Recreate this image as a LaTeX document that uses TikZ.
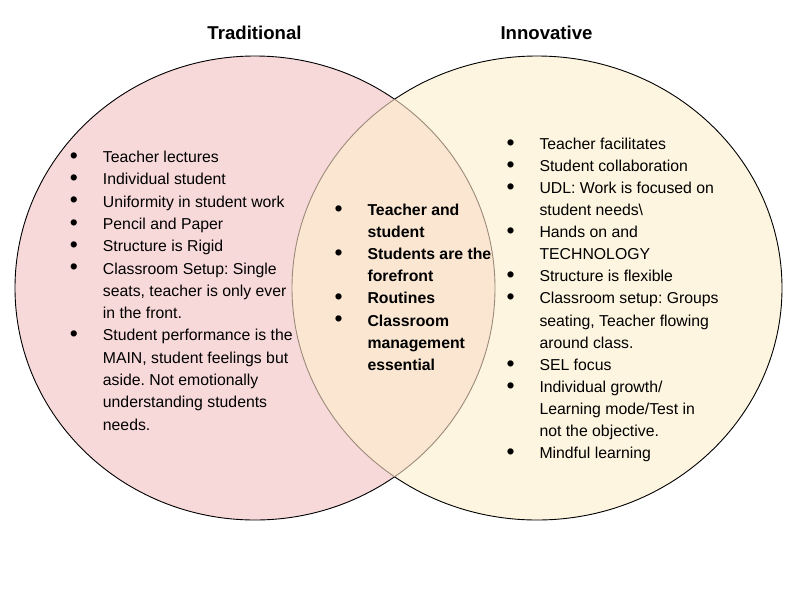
\documentclass[tikz,border=0pt]{standalone}
\usepackage{fontspec}
\setmainfont{Liberation Sans}
\frenchspacing
\newcommand{\vlist}[3]{%
  \fontsize{15.8}{#2}\selectfont
  \begin{tabular}[t]{@{}p{#1}@{}l@{}}#3\end{tabular}}
\newcommand{\bl}{\raisebox{-0.8pt}{\scalebox{1.45}{\textbullet}}}
\begin{document}
\begin{tikzpicture}[x=1pt,y=-1pt]
  \definecolor{tradfill}{HTML}{F8D9DA}
  \definecolor{innofill}{HTML}{FDF5DF}
  \definecolor{bothfill}{HTML}{FAE6D1}
  \definecolor{innerline}{HTML}{9C8A7A}
  \tikzset{
    ring/.style={line width=0.9pt},
    title/.style={font=\fontsize{18.6}{22}\selectfont\bfseries, inner sep=0pt, anchor=base},
    listnode/.style={inner sep=0pt, anchor=base west, align=left}
  }
  \def\lefte{(255,288) ellipse [x radius=240pt, y radius=232pt]}
  \def\righte{(537,288) ellipse [x radius=245pt, y radius=232pt]}
  \useasboundingbox (0,0) rectangle (800,600);
  \fill[white] (0,0) rectangle (800,600);

  % circle fills
  \fill[tradfill] \lefte;
  \fill[innofill] \righte;
  \begin{scope}
    \clip \lefte;
    \fill[bothfill] \righte;
  \end{scope}

  % outlines: black outside the overlap, muted inside it
  \begin{scope}[even odd rule]
    \clip (0,0) rectangle (800,600) \righte;
    \draw[ring, black] \lefte;
  \end{scope}
  \begin{scope}
    \clip \righte;
    \draw[ring, innerline] \lefte;
  \end{scope}
  \begin{scope}[even odd rule]
    \clip (0,0) rectangle (800,600) \lefte;
    \draw[ring, black] \righte;
  \end{scope}
  \begin{scope}
    \clip \lefte;
    \draw[ring, innerline] \righte;
  \end{scope}

  % headings
  \node[title] (tradtitle) at (254.5,39.7) {Traditional};
  \node[title] (innotitle) at (546.5,39.7) {Innovative};

  % left list
  \node[listnode] (tradlist) at (69.6,162.5) {\vlist{33.1pt}{22.3}{%
    \bl & Teacher lectures\\
    \bl & Individual student\\
    \bl & Uniformity in student work\\
    \bl & Pencil and Paper\\
    \bl & Structure is Rigid\\
    \bl & Classroom Setup: Single\\
        & seats, teacher is only ever\\
        & in the front.\\
    \bl & Student performance is the\\
        & MAIN, student feelings but\\
        & aside. Not emotionally\\
        & understanding students\\
        & needs.}};

  % shared list
  \node[listnode] (bothlist) at (334.3,215.5) {\vlist{33pt}{22.1}{%
    \bl & \textbf{Teacher and}\\
        & \textbf{student}\\
    \bl & \textbf{Students are the}\\
        & \textbf{forefront}\\
    \bl & \textbf{Routines}\\
    \bl & \textbf{Classroom}\\
        & \textbf{management}\\
        & \textbf{essential}}};

  % right list
  \node[listnode] (innolist) at (506.4,149.5) {\vlist{32.9pt}{22.07}{%
    \bl & Teacher facilitates\\
    \bl & Student collaboration\\
    \bl & UDL: Work is focused on\\
        & student needs\textbackslash\\
    \bl & Hands on and\\
        & TECHNOLOGY\\
    \bl & Structure is flexible\\
    \bl & Classroom setup: Groups\\
        & seating, Teacher flowing\\
        & around class.\\
    \bl & SEL focus\\
    \bl & Individual growth/\\
        & Learning mode/Test in\\
        & not the objective.\\
    \bl & Mindful learning}};
\end{tikzpicture}
\end{document}
